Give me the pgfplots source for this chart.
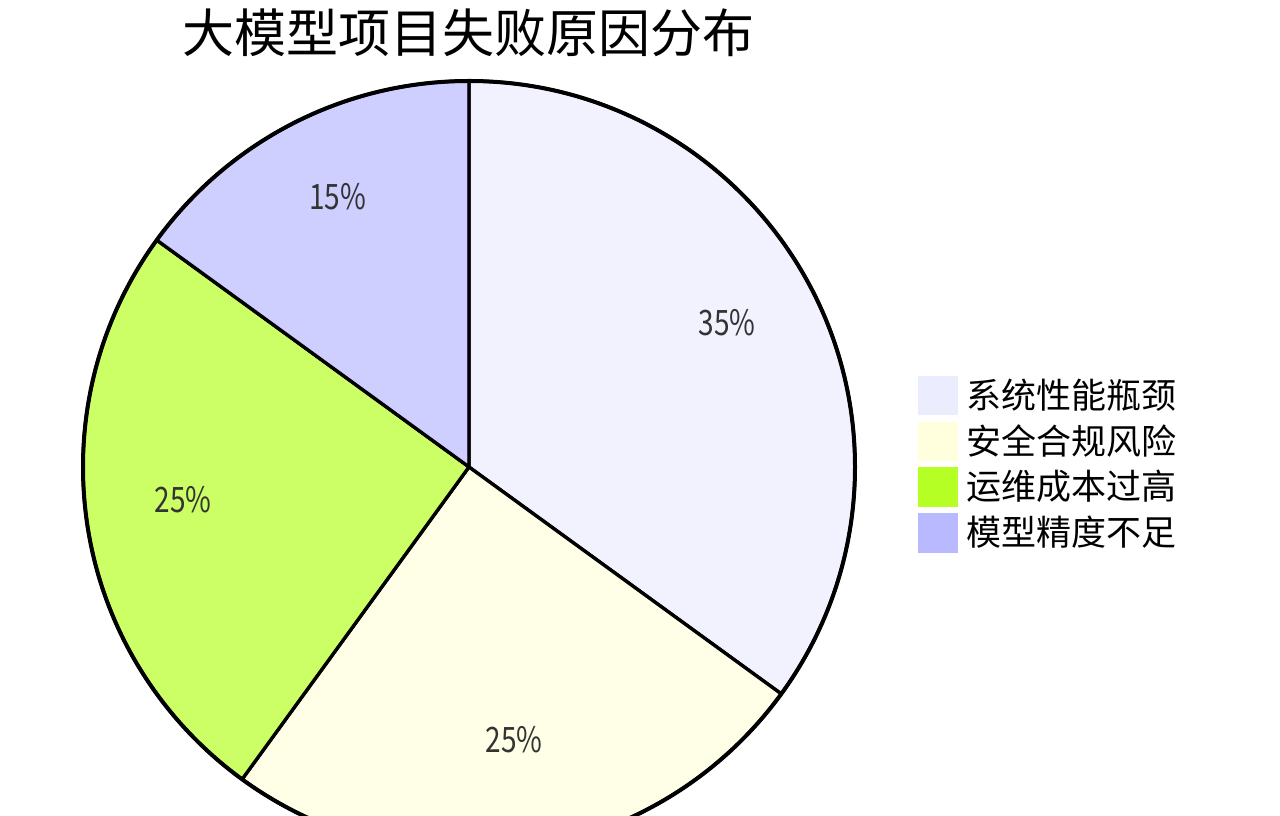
\documentclass[border=0pt]{standalone}
\usepackage{pgfplots}
\pgfplotsset{compat=1.18}
\usepackage{fontspec}
\setmainfont{Noto Sans CJK SC}
\newfontfamily\lblfont[FakeStretch=0.8]{Noto Sans CJK SC}
\definecolor{c1}{HTML}{ECECFF}
\definecolor{c2}{HTML}{FFFFDE}
\definecolor{c3}{HTML}{B6FF24}
\definecolor{c4}{HTML}{B9B9FF}
\definecolor{lbl}{HTML}{333333}
\def\cx{469}
\def\cy{349}
\def\R{386}
\def\Rl{289.5}
% slice values (percent)
\def\va{35}
\def\vb{25}
\def\vc{25}
\def\vd{15}
\begin{document}
\begin{tikzpicture}
\begin{axis}[hide axis, scale only axis, width=1280pt, height=816pt,
  xmin=0, xmax=1280, ymin=0, ymax=816, clip=true]
\coordinate (BL) at (axis cs:0,0);
\coordinate (TR) at (axis cs:1280,816);
% slices
\filldraw[fill=c1, fill opacity=0.7, draw=black, draw opacity=1, line width=3.3pt, line join=round]
  (axis cs:\cx,\cy) -- ++({90}:\R pt) arc[start angle={90}, end angle={90-3.6*\va}, radius=\R pt] -- cycle;
\filldraw[fill=c2, fill opacity=0.7, draw=black, draw opacity=1, line width=3.3pt, line join=round]
  (axis cs:\cx,\cy) -- ++({90-3.6*\va}:\R pt) arc[start angle={90-3.6*\va}, end angle={90-3.6*(\va+\vb)}, radius=\R pt] -- cycle;
\filldraw[fill=c3, fill opacity=0.7, draw=black, draw opacity=1, line width=3.3pt, line join=round]
  (axis cs:\cx,\cy) -- ++({90-3.6*(\va+\vb)}:\R pt) arc[start angle={90-3.6*(\va+\vb)}, end angle={90-3.6*(\va+\vb+\vc)}, radius=\R pt] -- cycle;
\filldraw[fill=c4, fill opacity=0.7, draw=black, draw opacity=1, line width=3.3pt, line join=round]
  (axis cs:\cx,\cy) -- ++({90-3.6*(\va+\vb+\vc)}:\R pt) arc[start angle={90-3.6*(\va+\vb+\vc)}, end angle={90-3.6*(\va+\vb+\vc+\vd)}, radius=\R pt] -- cycle;
\draw[line width=4pt] (axis cs:\cx,\cy) circle[radius=\R pt];
% percent labels
\node[anchor=base, text=lbl, font=\lblfont\fontsize{35}{40}\selectfont] at (axis cs:{\cx+\Rl*cos(90-3.6*\va/2)},{\cy+\Rl*sin(90-3.6*\va/2)}) {35\%};
\node[anchor=base, text=lbl, font=\lblfont\fontsize{35}{40}\selectfont] at (axis cs:{\cx+\Rl*cos(90-3.6*(\va+\vb/2))},{\cy+\Rl*sin(90-3.6*(\va+\vb/2))}) {25\%};
\node[anchor=base, text=lbl, font=\lblfont\fontsize{35}{40}\selectfont] at (axis cs:{\cx+\Rl*cos(90-3.6*(\va+\vb+\vc/2))},{\cy+\Rl*sin(90-3.6*(\va+\vb+\vc/2))}) {25\%};
\node[anchor=base, text=lbl, font=\lblfont\fontsize{35}{40}\selectfont] at (axis cs:{\cx+\Rl*cos(90-3.6*(\va+\vb+\vc+\vd/2))},{\cy+\Rl*sin(90-3.6*(\va+\vb+\vc+\vd/2))}) {15\%};
% title
\node[anchor=base, font=\fontsize{52}{60}\selectfont] at (axis cs:468,763) {大模型项目失败原因分布};
% legend
\fill[c1] (axis cs:918,440) rectangle (axis cs:958,401);
\fill[c2] (axis cs:918,394) rectangle (axis cs:958,355);
\fill[c3] (axis cs:918,349) rectangle (axis cs:958,309);
\fill[c4] (axis cs:918,303) rectangle (axis cs:958,263);
\node[anchor=base west, inner sep=0pt, font=\fontsize{35}{40}\selectfont] at (axis cs:966,407) {系统性能瓶颈};
\node[anchor=base west, inner sep=0pt, font=\fontsize{35}{40}\selectfont] at (axis cs:966,361) {安全合规风险};
\node[anchor=base west, inner sep=0pt, font=\fontsize{35}{40}\selectfont] at (axis cs:966,316) {运维成本过高};
\node[anchor=base west, inner sep=0pt, font=\fontsize{35}{40}\selectfont] at (axis cs:966,270) {模型精度不足};
\end{axis}
\pgfresetboundingbox
\path[use as bounding box] (BL) rectangle (TR);
\end{tikzpicture}
\end{document}
